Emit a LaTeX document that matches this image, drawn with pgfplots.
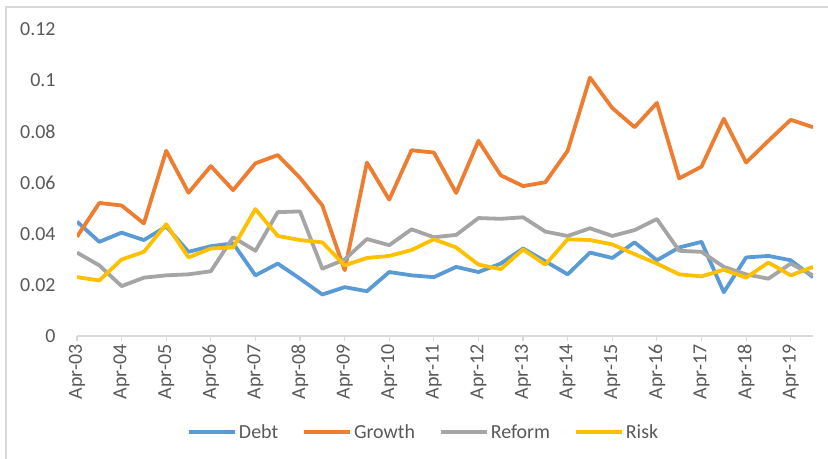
\documentclass[border=0pt]{standalone}
\usepackage{pgfplots}
\usepackage{pgfplotstable}
\pgfplotsset{compat=1.18}
\usepackage{fontspec}
\setmainfont{Carlito}
\definecolor{debt}{HTML}{5B9BD5}
\definecolor{growth}{HTML}{ED7D31}
\definecolor{reform}{HTML}{A5A5A5}
\definecolor{risk}{HTML}{FFC000}
\definecolor{txt}{HTML}{595959}
\definecolor{axgray}{HTML}{D9D9D9}

% half-yearly points, 0 = Apr-03, 33 = Oct-19
\pgfplotstableread{
i  debt   growth reform risk
0  0.0447 0.0388 0.0326 0.0230
1  0.0368 0.0520 0.0276 0.0217
2  0.0404 0.0510 0.0195 0.0299
3  0.0375 0.0440 0.0228 0.0329
4  0.0428 0.0724 0.0237 0.0437
5  0.0329 0.0560 0.0241 0.0307
6  0.0351 0.0664 0.0253 0.0342
7  0.0362 0.0570 0.0386 0.0346
8  0.0237 0.0675 0.0333 0.0496
9  0.0283 0.0707 0.0484 0.0391
10 0.0224 0.0618 0.0487 0.0375
11 0.0162 0.0510 0.0263 0.0366
12 0.0191 0.0257 0.0299 0.0276
13 0.0175 0.0678 0.0379 0.0305
14 0.0250 0.0533 0.0355 0.0313
15 0.0237 0.0726 0.0417 0.0336
16 0.0230 0.0717 0.0386 0.0378
17 0.0270 0.0559 0.0395 0.0346
18 0.0250 0.0763 0.0461 0.0279
19 0.0283 0.0628 0.0458 0.0261
20 0.0342 0.0586 0.0464 0.0338
21 0.0292 0.0601 0.0408 0.0279
22 0.0241 0.0724 0.0391 0.0378
23 0.0326 0.1010 0.0421 0.0375
24 0.0305 0.0891 0.0391 0.0358
25 0.0366 0.0816 0.0414 0.0320
26 0.0296 0.0911 0.0457 0.0283
27 0.0346 0.0616 0.0333 0.0241
28 0.0368 0.0662 0.0329 0.0233
29 0.0171 0.0849 0.0270 0.0259
30 0.0307 0.0678 0.0241 0.0228
31 0.0313 0.0763 0.0224 0.0287
32 0.0296 0.0845 0.0283 0.0237
33 0.0230 0.0816 0.0237 0.0270
}\datatable

\begin{document}
\begin{tikzpicture}[x=1bp,y=1bp]
\useasboundingbox (0,0) rectangle (828,459);
\draw[axgray, line width=1.5bp] (6,0) -- (6,452) -- (828,452);
\begin{axis}[
    at={(77bp,123bp)}, anchor=south west,
    scale only axis, width=736bp, height=307bp,
    xmin=0, xmax=33, ymin=0, ymax=0.12,
    axis x line*=bottom, axis y line*=left,
    x axis line style={axgray, line width=1.2bp},
    y axis line style={draw=none},
    xtick={0,2,...,32},
    xticklabels={Apr-03,Apr-04,Apr-05,Apr-06,Apr-07,Apr-08,Apr-09,Apr-10,Apr-11,Apr-12,Apr-13,Apr-14,Apr-15,Apr-16,Apr-17,Apr-18,Apr-19},
    ytick={0,0.02,0.04,0.06,0.08,0.1,0.12},
    yticklabels={0,0.02,0.04,0.06,0.08,0.1,0.12},
    tick align=outside,
    major tick length=5bp,
    xtick style={axgray, line width=1.2bp},
    ytick style={draw=none},
    ticklabel style={font=\fontsize{20}{22}\selectfont, text=txt},
    xticklabel style={rotate=90, anchor=east},
    yticklabel style={anchor=east, xshift=-13bp},
    legend columns=4,
    legend style={at={(0.471,-0.3127)}, anchor=center, draw=none,
        font=\fontsize{20}{22}\selectfont, text=txt,
        /tikz/every even column/.append style={column sep=22bp}},
    legend image code/.code={\draw[#1] (0bp,0bp) -- (46bp,0bp);},
    every axis plot/.append style={line width=3.8bp, line join=round},
]
\addplot[debt] table[x=i, y=debt] {\datatable};
\addplot[growth] table[x=i, y=growth] {\datatable};
\addplot[reform] table[x=i, y=reform] {\datatable};
\addplot[risk] table[x=i, y=risk] {\datatable};
\legend{Debt,Growth,Reform,Risk}
\end{axis}
\end{tikzpicture}
\end{document}
